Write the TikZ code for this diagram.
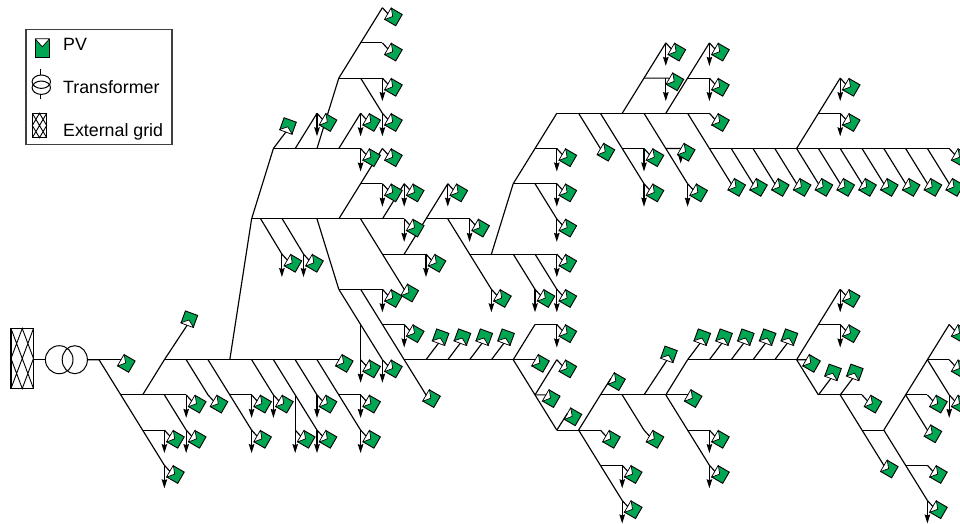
\documentclass[tikz,border=0pt]{standalone}
\usepackage{fontspec}
\setmainfont{Liberation Sans}
\usepackage{tikz}
\usetikzlibrary{positioning,arrows.meta,calc,shapes.geometric}
\definecolor{pvgreen}{RGB}{0,166,81}
\newcommand{\pvnotch}[1]{\draw[pvcut] (#1.north west) -- ($(#1.north)!0.42!(#1.south)$) -- (#1.north east) -- cycle;}
\newcommand{\pvsite}[3]{\node[pv, rotate=#3] (pv#1) at ($(g#1)+(#2)$) {}; \pvnotch{pv#1} \draw[bus] (g#1) -- (pv#1.north);}
\newcommand{\lattice}{(0,0) -- (1,1) (1,0) -- (0,1) (0.5,0) -- (1,0.5) -- (0.5,1) -- (0,0.5) -- cycle}

\begin{document}
\begin{tikzpicture}[x=1pt, y=-1pt,
  bus/.style={black, line width=1.15pt},
  load/.style={black, line width=1.15pt, -{Stealth[length=9pt, width=5.5pt, inset=1pt]}},
  pv/.style={draw=black, line width=0.9pt, fill=pvgreen, inner sep=0pt, minimum width=13pt, minimum height=12.4pt},
  pvcut/.style={draw=black, line width=0.7pt, fill=white, line join=round},
  coil/.style={draw=black, ellipse, line width=1pt, inner sep=0pt},
  gridbox/.style={draw=black, line width=1.1pt, inner sep=0pt},
  hatch/.style={black, line width=0.9pt},
  legbox/.style={draw=black!75, line width=1.1pt, inner sep=0pt, minimum width=146pt, minimum height=115pt},
  leglab/.style={anchor=base west, inner sep=0pt, font=\fontsize{17.8}{20}\selectfont}]
\useasboundingbox (0,0) rectangle (960,524);
\fill[white] (0,0) rectangle (960,524);
\foreach \j in {0,...,39} \foreach \k in {0,...,14} \coordinate (g\j-\k) at ({99+21.8*\j},{7.7+35.2*\k});
\coordinate (g7x-6) at (260.7,218.9); \coordinate (g8x-6) at (282.3,218.9); \coordinate (g8x-7) at (281.9,254.1); \coordinate (g9x-7) at (303.5,254.1);
\coordinate (g20x-11) at (545.7,394.9); \coordinate (g32x-10) at (806,359.7); \coordinate (g26x-2) at (669.4,78.1); \coordinate (g27y-4) at (680.7,148.5);

\node[gridbox, minimum width=22.5pt, minimum height=60pt] (extgrid) at (22.25,358.5) {};
\draw[hatch, shift={(11,328.5)}, xscale=22.5, yscale=60] \lattice;
\node[coil, minimum width=27.6pt, minimum height=28pt] (coila) at (59.2,359.7) {};
\node[coil, minimum width=25.2pt, minimum height=28pt] (coilb) at (74.8,359.7) {};
\draw[bus] (extgrid.east |- coila) -- (coila); \draw[bus] (coilb) -- (g0-10);

\foreach \pa/\pb in {0-10/1-10, 0-10/3-13, 1-11/4-11, 2-11/3-10, 2-12/3-12, 3-11/4-12, 3-10/11-10, 4-10/5-11, 5-10/7-12, 6-11/7-11, 7-10/8-11, 8-10/10-12, 9-11/9-12, 9-10/10-11, 10-10/12-12, 11-11/12-11,
  6-10/7-6, 7-6/8-4, 8-4/12-4, 9-4/10-3, 10-4/11-2, 11-4/12-3, 11-2/13-2, 12-2/13-3, 11-2/13-0, 12-1/13-1, 11-6/13-4, 12-5/13-5, 13-6/14-5, 7-6/14-6, 7x-6/8x-7, 8x-6/9x-7, 10-6/11-8, 11-8/13-8, 12-6/14-8, 13-7/15-7, 14-7/16-5, 15-6/17-6, 16-6/18-8,
  17-7/21-7, 19-7/20-8, 20-7/21-8, 18-7/19-5, 19-5/21-3, 19-5/21-5, 20-5/21-6, 20-4/21-4, 21-3/28-3, 22-3/23-4, 23-3/25-5, 24-4/25-4, 25-3/27-5, 26-4/27y-4, 24-3/26-1, 25-2/26x-2, 26-3/28-1, 27-2/28-2, 27-3/29-5, 28-4/39-4, 32-4/34-2, 33-3/34-3,
  29-4/30-5, 30-4/31-5, 31-4/32-5, 32-4/33-5, 33-4/34-5, 34-4/35-5, 35-4/36-5, 36-4/37-5, 37-4/38-5, 38-4/39-5,
  11-8/13-10, 12-9/12-10, 12-8/15-11, 13-9/14-9, 14-10/19-10, 19-10/20-9, 20-9/21-9, 19-10/20-10, 19-10/21-12, 21-12/23-12, 20-11/21-10, 20-11/20x-11, 22-12/23-11, 22-12/24-14, 23-13/24-13,
  23-11/27-11, 24-11/25-12, 26-11/27-10, 27-10/32-10, 26-11/28-13, 27-12/28-12, 32-10/34-8, 33-9/34-9, 32-10/32x-10, 32-10/33-11, 33-11/35-11, 34-11/36-13, 35-12/36-12, 36-12/39-9, 36-12/38-14, 37-13/38-13, 37-11/38-11, 37-11/38-12, 38-10/39-10, 38-10/39-11}
  \draw[bus] (g\pa) -- (g\pb);

\foreach \site in {3-13, 4-11, 3-12, 4-12, 7-11, 7-12, 8-11, 9-12, 10-11, 10-12, 12-11, 12-12, 12-4, 10-3, 12-3, 13-2, 13-3, 13-5, 14-5, 14-6, 16-5, 15-7, 13-8, 14-9, 13-10, 12-10, 8x-7, 9x-7, 17-6, 18-8, 20-8, 21-8, 21-7, 21-6, 21-5, 21-4, 25-5, 25-4, 27-5, 26-1, 26-2, 28-1, 28-2, 34-2, 34-3, 21-9, 24-13, 24-14, 28-12, 28-13, 34-8, 34-9, 38-14, 39-11}
  {\coordinate (l\site) at ($(g\site)+(0,23)$); \draw[load] (g\site) -- (l\site);}
\coordinate (l27y-4) at ($(g27y-4)+(0,15)$); \draw[load] (g27y-4) -- (l27y-4);

\foreach \site in {13-0, 13-1, 13-2, 13-3, 13-4, 13-5, 14-5, 14-6, 16-5, 15-7, 13-8, 14-9, 12-3, 12-4, 10-3, 13-10, 12-10, 17-6, 18-8, 20-8, 21-8, 21-7, 21-6, 21-5, 21-4, 25-5, 25-4, 27-5, 28-3, 26-1, 28-1, 28-2, 39-4, 34-2, 34-3, 3-13, 4-11, 3-12, 4-12, 5-11, 7-11, 7-12, 8-11, 9-12, 10-11, 10-12, 12-11, 12-12, 8x-7, 9x-7, 21-9, 21-10, 23-12, 24-13, 24-14, 25-12, 28-12, 28-13, 34-8, 34-9, 35-11, 38-14, 38-13, 38-11, 39-9, 39-10, 39-11}
  \pvsite{\site}{11.2,9.3}{60};
\foreach \site in {1-10, 11-10, 14-8, 15-11, 20-10, 20x-11, 23-4, 27y-4, 26x-2, 29-5, 30-5, 31-5, 32-5, 33-5, 34-5, 35-5, 36-5, 37-5, 38-5, 39-5, 27-11, 32x-10, 36-13, 38-12}
  \pvsite{\site}{5.7,3.8}{60};
\foreach \site in {8-4, 15-10, 16-10, 17-10, 18-10, 27-10, 28-10, 29-10, 30-10, 31-10, 33-11, 34-11}
  \pvsite{\site}{14.7,-22.7}{160};
\foreach \site in {3-10, 25-11} \pvsite{\site}{25,-40.7}{160};
\foreach \site in {21-12, 23-11} \pvsite{\site}{16.3,-13.2}{60};

\node[legbox] (legend) at (99,86.6) {};
\node[pv, minimum width=13.5pt, minimum height=18pt] (legpv) at (42.3,48.3) {}; \pvnotch{legpv}
\node[leglab] (labpv) at (63,50.7) {PV};
\coordinate (tratop) at (40.7,69); \coordinate (trabot) at (40.7,99.3);
\draw[bus] (tratop) -- (trabot |- 0,75); \draw[bus] (trabot) -- (trabot |- 0,94.3);
\node[coil, minimum width=18.4pt, minimum height=13.4pt] (legcoila) at (41.3,81.7) {};
\node[coil, minimum width=18.4pt, minimum height=13.4pt] (legcoilb) at (41.3,87.7) {};
\node[leglab] (labtr) at (63,94) {Transformer};
\node[gridbox, minimum width=14.4pt, minimum height=24.4pt] (leggrid) at (39.5,125.5) {};
\draw[hatch, shift={(32.3,113.3)}, xscale=14.4, yscale=24.4] \lattice;
\node[leglab] (labext) at (63,136.7) {External grid};
\end{tikzpicture}
\end{document}
